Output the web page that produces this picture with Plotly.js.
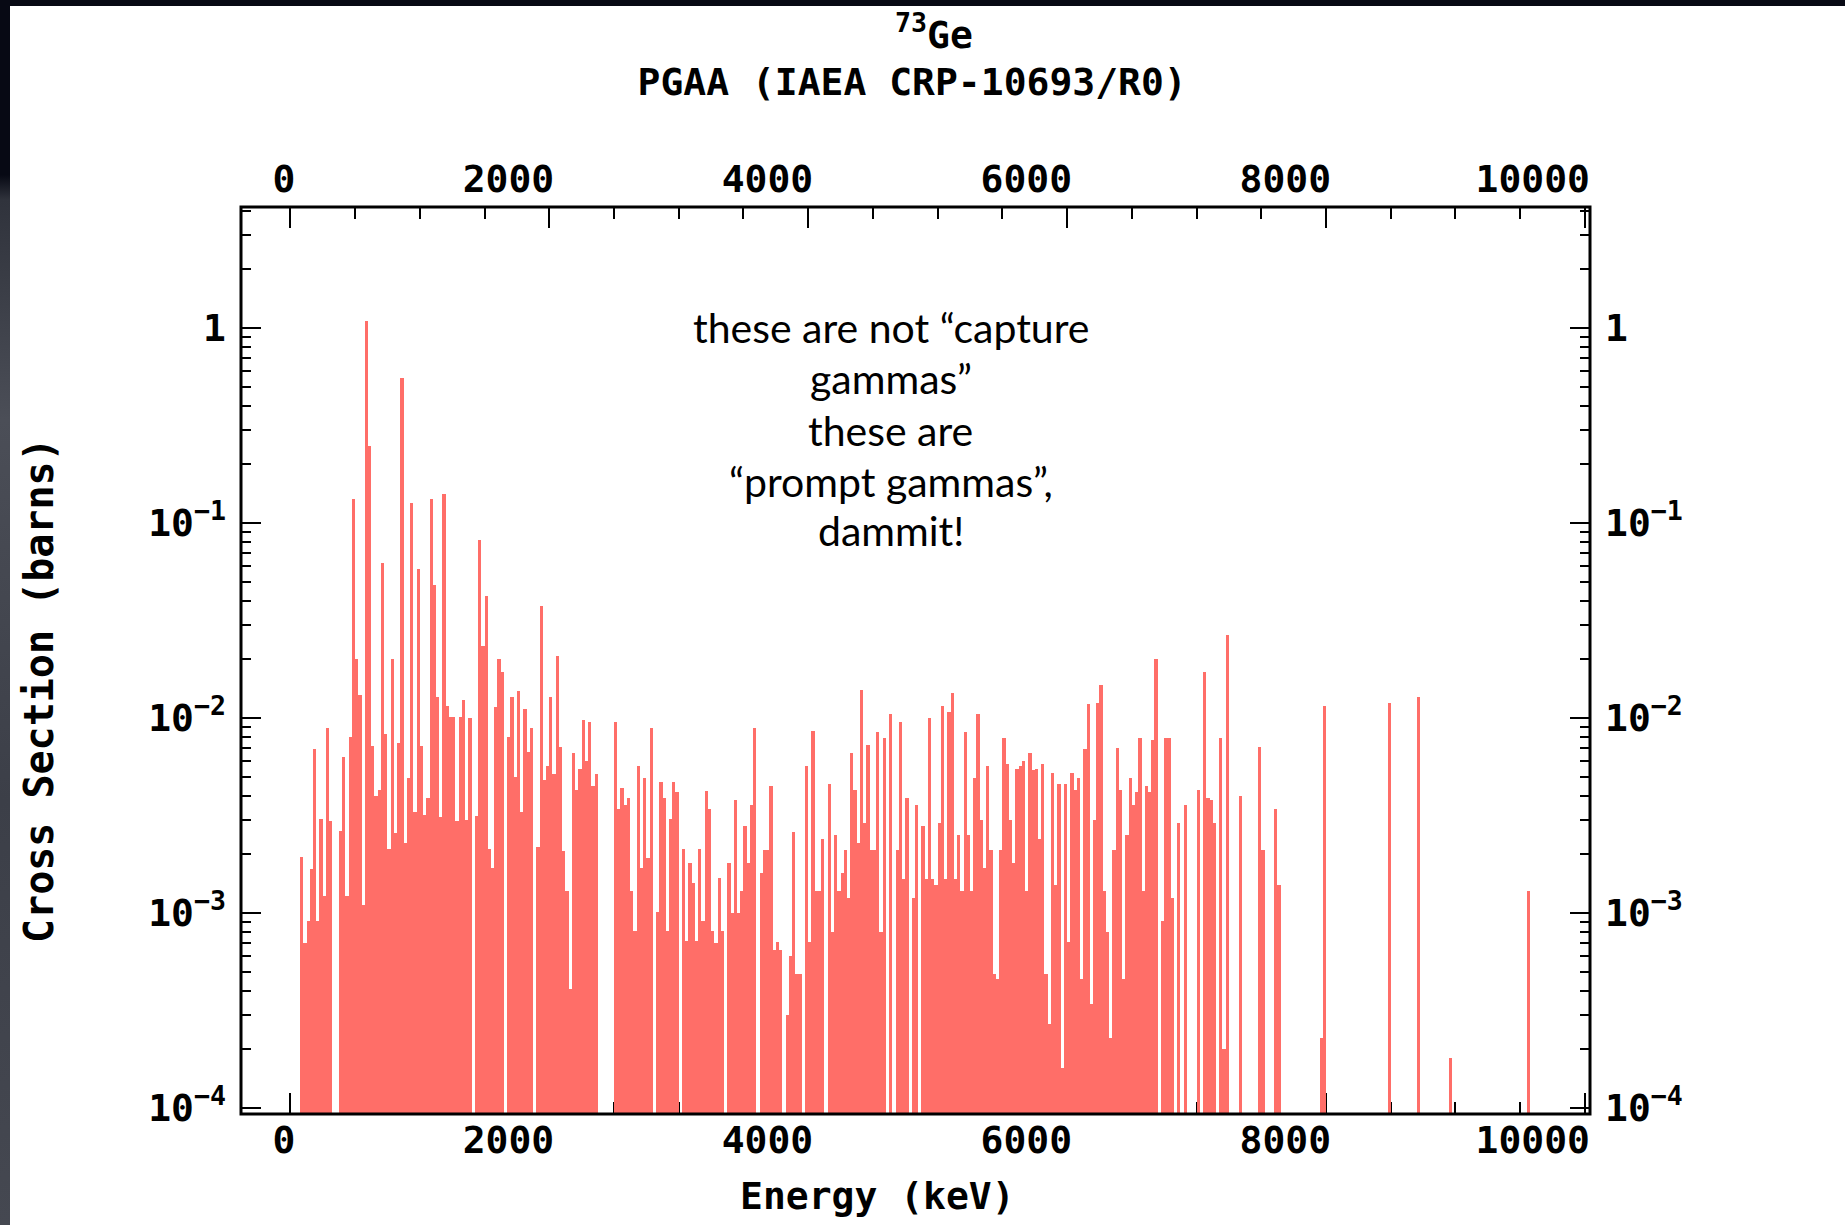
<!DOCTYPE html>
<html>
<head>
<meta charset="utf-8">
<script src="https://cdn.plot.ly/plotly-3.0.1.min.js"></script>
<style>
html,body{margin:0;padding:0;width:1845px;height:1225px;overflow:hidden;background:#3d4049;}
#topband{position:absolute;left:0;top:0;width:1845px;height:6px;background:#070914;}
#leftband{position:absolute;left:0;top:0;width:10px;height:1225px;
  background:linear-gradient(to bottom,#070914 0px,#070914 175px,#30333c 200px,#4b4e57 420px,#3c3f48 800px,#454851 1225px);}
#chart{position:absolute;left:10px;top:6px;width:1835px;height:1219px;background:#fff;}
</style>
</head>
<body>
<div id="topband"></div>
<div id="leftband"></div>
<div id="chart"></div>
<script>
// ---------- data ----------
const BIN_WIDTH_KEV = 25;          // histogram bin width
const FIRST_BIN_CENTER_KEV = 87.5; // centre of the first filled bin

// cross section per 25 keV bin (barns); null = empty bin
const crossSectionBarns = [
  0.00195, 0.0007, 0.00091, 0.00168, 0.0069, 0.00091, 0.00305, 0.00122, 0.00885, 0.00295,
  null, null, 0.00263, 0.00635, 0.00122, 0.00795, 0.132, 0.020, 0.0132, 0.0011,
  1.09, 0.247, 0.0072, 0.0040, 0.0043, 0.0625, 0.0083, 0.00212, 0.020, 0.00256,
  0.00745, 0.556, 0.00229, 0.0049, 0.127, 0.0033, 0.058, 0.0072, 0.0032, 0.0039,
  0.132, 0.048, 0.0128, 0.0031, 0.141, 0.0115, 0.0101, 0.0101, 0.00295, 0.0101,
  0.0124, 0.0030, 0.0100, null, 0.00315, 0.082, 0.0235, 0.042, 0.00212, 0.00171,
  0.0114, 0.020, 0.0173, null, 0.00795, 0.0128, 0.0050, 0.0137, 0.0033, 0.0111,
  0.0067, 0.00885, null, 0.00217, 0.0375, 0.0048, 0.0057, 0.0128, 0.00515, 0.0207,
  0.0071, 0.00208, 0.0013, 0.00041, 0.0066, 0.0043, 0.0055, 0.0098, 0.0060, 0.0095,
  0.0045, 0.00515, null, null, null, null, null, 0.0095, 0.0034, 0.0044,
  0.0036, 0.0039, 0.0013, 0.00081, 0.0057, 0.00171, 0.0049, 0.00191, 0.00885, null,
  0.00101, 0.0047, 0.0039, 0.00081, 0.00305, 0.0047, 0.0042, null, 0.00212, 0.00072,
  0.0018, 0.00142, 0.00072, 0.00212, 0.00091, 0.00425, 0.0034, 0.00081, 0.0007, 0.00151,
  0.00081, null, 0.0018, 0.0010, 0.0038, 0.0010, 0.0013, 0.0028, 0.0018, 0.0036,
  0.0089, null, 0.0016, 0.0021, 0.0021, 0.0045, 0.00065, 0.00071, 0.00065, null,
  0.00030, 0.00060, 0.0026, 0.00049, 0.00049, null, 0.0057, 0.00071, 0.0086, 0.0013,
  0.0013, 0.0024, null, 0.0046, 0.00080, 0.0025, 0.0013, 0.0016, 0.0021, 0.0012,
  0.0066, 0.0043, 0.0023, 0.0139, 0.0029, 0.0073, 0.0021, 0.0021, 0.0085, 0.00080,
  0.0079, null, 0.0105, null, 0.0021, 0.0095, 0.0015, 0.0039, null, 0.0012,
  0.0036, null, 0.0028, 0.0015, 0.0100, 0.0015, 0.0014, 0.0029, 0.0115, 0.0015,
  0.0107, 0.0135, 0.0015, 0.0025, 0.0013, 0.0085, 0.0025, 0.0013, 0.0049, 0.0105,
  0.0030, 0.0017, 0.0057, 0.0021, 0.00049, 0.00046, 0.0021, 0.0079, 0.0058, 0.0030,
  0.0018, 0.0055, 0.0057, 0.0060, 0.0013, 0.0066, 0.0054, 0.0055, 0.0024, 0.0058,
  0.00049, 0.00027, 0.0052, 0.0014, 0.0046, 0.00016, 0.0046, 0.00071, 0.0052, 0.0043,
  0.0049, 0.00046, 0.0069, 0.0118, 0.00034, 0.0030, 0.0120, 0.0147, 0.0013, 0.00080,
  0.00023, 0.0021, 0.0070, 0.0043, 0.00046, 0.0025, 0.0049, 0.0036, 0.0042, 0.0079,
  0.0013, 0.0045, 0.0042, 0.0077, 0.020, null, 0.00091, 0.0079, 0.0079, 0.0012,
  null, 0.0029, null, 0.0036, null, null, null, 0.0043, null, 0.0173,
  0.0039, 0.0038, 0.0029, null, 0.0079, 0.00020, 0.0267, null, null, null,
  0.0040, null, null, null, null, null, 0.0071, 0.0021, null, null,
  null, 0.0034, 0.0014, null, null, null, null, null, null, null,
  null, null, null, null, null, 0.00023, 0.0115
];

// isolated high-energy lines
const isolatedLineEnergyKeV = [8487.5, 8712.5, 8962.5, 9562.5];
const isolatedLineCrossSection = [0.0119, 0.0128, 0.00018, 0.0013];

// axis ticks and texts
const xTickValues = [0, 2000, 4000, 6000, 8000, 10000];
const xTickLabels = ['0', '2000', '4000', '6000', '8000', '10000'];
const xMinorTickValues = [500, 1000, 1500, 2500, 3000, 3500, 4500, 5000, 5500, 6500, 7000, 7500, 8500, 9000, 9500];
const yTickValues = [1e-4, 1e-3, 1e-2, 1e-1, 1];
const yTickLabels = ['10<sup>\u22124</sup>', '10<sup>\u22123</sup>', '10<sup>\u22122</sup>', '10<sup>\u22121</sup>', '1'];
const callout = ['these are not \u201ccapture', 'gammas\u201d', 'these are', '\u201cprompt gammas\u201d,', 'dammit!'];

// ---------- presentation ----------
const yMinorTickValues = [];
[-4, -3, -2, -1, 0].forEach(d => { for (let m = 2; m <= 9; m++) { const v = m * Math.pow(10, d); if (v < 4.1) yMinorTickValues.push(v); } });

const MONO = 'DejaVu Sans Mono';
const tickFont = {family: MONO, size: 38, weight: 'bold', color: '#000'};
const barMarker = {color: '#ff6e68', opacity: 1, line: {width: 0}};

const xRange = [-381, 10039];
const yRange = [-4.03, 0.62];

function xAxis(side, extra) {
  return Object.assign({
    type: 'linear', range: xRange, autorange: false, side: side,
    showgrid: false, zeroline: false, showline: false,
    ticks: 'inside', ticklen: 21, tickwidth: 2, tickcolor: '#000',
    tickmode: 'array', tickvals: xTickValues, ticktext: xTickLabels, tickfont: tickFont,
    ticklabelposition: 'outside left', ticklabelshift: 6,
    minor: {tickmode: 'array', tickvals: xMinorTickValues, ticks: 'inside', ticklen: 12, tickwidth: 2, tickcolor: '#000', showgrid: false},
    fixedrange: true
  }, extra);
}
function yAxis(side, extra) {
  return Object.assign({
    type: 'log', range: yRange, autorange: false, side: side,
    showgrid: false, zeroline: false, showline: false,
    ticks: 'inside', ticklen: 20, tickwidth: 2, tickcolor: '#000',
    tickmode: 'array', tickvals: yTickValues, ticktext: yTickLabels, tickfont: tickFont,
    ticklabelstandoff: 14,
    minor: {tickmode: 'array', tickvals: yMinorTickValues, ticks: 'inside', ticklen: 10, tickwidth: 2, tickcolor: '#000', showgrid: false},
    fixedrange: true
  }, extra);
}

const traces = [
  {type: 'bar', name: 'binned lines', x0: FIRST_BIN_CENTER_KEV, dx: BIN_WIDTH_KEV, y: crossSectionBarns,
   width: BIN_WIDTH_KEV, marker: barMarker, xaxis: 'x', yaxis: 'y', showlegend: false},
  {type: 'bar', name: 'isolated lines', x: isolatedLineEnergyKeV, y: isolatedLineCrossSection,
   width: BIN_WIDTH_KEV, marker: barMarker, xaxis: 'x', yaxis: 'y', showlegend: false},
  {type: 'scatter', mode: 'markers', x: [], y: [], xaxis: 'x2', yaxis: 'y2', showlegend: false, hoverinfo: 'skip'}
];

const calloutY = [0.8666, 0.8104, 0.7536, 0.6979, 0.6428];
const annotations = callout.map((t, i) => ({
  text: t, xref: 'paper', yref: 'paper', x: 0.4818, y: calloutY[i], xanchor: 'center', yanchor: 'middle',
  showarrow: false, font: {family: 'Lato', size: 41, color: '#000'}
}));
annotations.push({text: '<sup>73</sup>Ge', xref: 'paper', yref: 'paper', x: 0.5140, y: 1.1925,
  xanchor: 'center', yanchor: 'middle', showarrow: false, font: {family: MONO, size: 38, weight: 'bold', color: '#000'}});
annotations.push({text: 'Energy (keV)', xref: 'paper', yref: 'paper', x: 0.4715, y: -0.0904,
  xanchor: 'center', yanchor: 'middle', showarrow: false, font: {family: MONO, size: 38, weight: 'bold', color: '#000'}});
annotations.push({text: 'Cross Section (barns)', xref: 'paper', yref: 'paper', x: -0.1497, y: 0.4675, textangle: -90,
  xanchor: 'center', yanchor: 'middle', showarrow: false, font: {family: MONO, size: 40, weight: 'bold', color: '#000'}});

const layout = {
  width: 1835, height: 1219,
  margin: {l: 231, r: 255, t: 201, b: 111, pad: 0},
  paper_bgcolor: '#ffffff', plot_bgcolor: '#ffffff',
  barmode: 'overlay', bargap: 0,
  showlegend: false,
  title: {text: 'PGAA (IAEA CRP-10693/R0)', font: {family: MONO, size: 38, weight: 'bold', color: '#000'},
          xref: 'paper', x: 0.4975, xanchor: 'center', yref: 'container', y: 0.9377, yanchor: 'middle'},
  xaxis: xAxis('bottom', {anchor: 'y', layer: 'below traces', ticklabelstandoff: 0}),
  xaxis2: xAxis('top', {anchor: 'y2', overlaying: 'x', ticklabelstandoff: 6}),
  yaxis: yAxis('left', {anchor: 'x'}),
  yaxis2: yAxis('right', {anchor: 'x2', overlaying: 'y'}),
  shapes: [{type: 'rect', xref: 'paper', yref: 'paper', x0: 0, x1: 1, y0: 0, y1: 1,
            line: {color: '#000', width: 3}, layer: 'above'}],
  annotations: annotations
};

Plotly.newPlot('chart', traces, layout, {displayModeBar: false, staticPlot: true});
</script>
</body>
</html>
